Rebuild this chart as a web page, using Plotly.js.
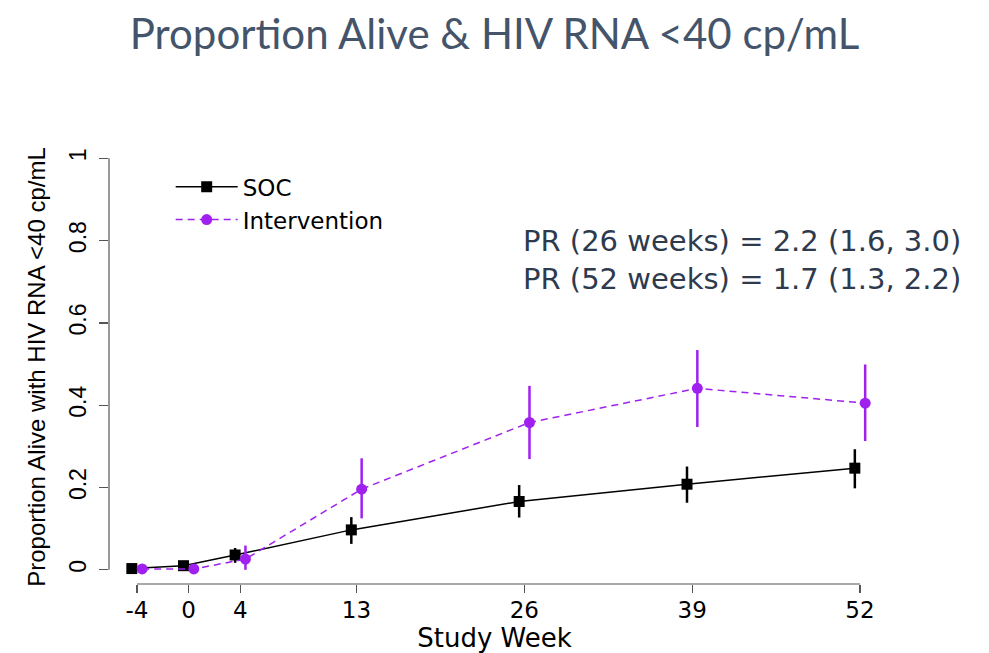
<!DOCTYPE html>
<html>
<head>
<meta charset="utf-8">
<script src="https://cdn.plot.ly/plotly-3.0.1.min.js"></script>
<style>
  html, body { margin: 0; padding: 0; background: #ffffff; }
  #chart { width: 989px; height: 653px; }
</style>
</head>
<body>
<div id="chart"></div>
<script>
// ---- data ----
var weeks = [-4, 0, 4, 13, 26, 39, 52];
var xTickLabels = ["-4", "0", "4", "13", "26", "39", "52"];
var yTicks = [0, 0.2, 0.4, 0.6, 0.8, 1];
var yTickLabels = ["0", "0.2", "0.4", "0.6", "0.8", "1"];

var socValues = [0.003, 0.010, 0.036, 0.097, 0.166, 0.208, 0.247];
var socUpper  = [0.003, 0.016, 0.053, 0.128, 0.206, 0.251, 0.293];
var socLower  = [0.003, 0.005, 0.017, 0.063, 0.127, 0.163, 0.198];

var intValues = [0.002, 0.002, 0.026, 0.196, 0.358, 0.441, 0.405];
var intUpper  = [0.002, 0.002, 0.059, 0.271, 0.447, 0.534, 0.499];
var intLower  = [0.002, 0.002, 0.000, 0.125, 0.269, 0.347, 0.313];

var dodge = 0.4;
var titleText = "Proportion Alive &amp; HIV RNA &lt;40 cp/mL";
var noteLines = ["PR (26 weeks) = 2.2 (1.6, 3.0)", "PR (52 weeks) = 1.7 (1.3, 2.2)"];

function diff(a, b) { return a.map(function (v, i) { return Math.max(0, v - b[i]); }); }

var purple = "#a020f0";
var wideFont = "DejaVu Sans, Verdana, sans-serif";
var font = "Liberation Sans, Arial, Helvetica, sans-serif";

var traces = [
  {
    name: "SOC",
    x: weeks.map(function (w) { return w - dodge; }),
    y: socValues,
    mode: "lines+markers",
    type: "scatter",
    line: { color: "#000000", width: 1.5 },
    marker: { symbol: "square", size: 11, color: "#000000" },
    error_y: { type: "data", symmetric: false,
      array: diff(socUpper, socValues), arrayminus: diff(socValues, socLower),
      color: "#000000", thickness: 2.5, width: 0 }
  },
  {
    name: "Intervention",
    x: weeks.map(function (w) { return w + dodge; }),
    y: intValues,
    mode: "lines+markers",
    type: "scatter",
    line: { color: purple, width: 1.5, dash: "7px,5px" },
    marker: { symbol: "circle", size: 11, color: purple },
    error_y: { type: "data", symmetric: false,
      array: diff(intUpper, intValues), arrayminus: diff(intValues, intLower),
      color: purple, thickness: 2.5, width: 0 }
  }
];

var layout = {
  width: 989, height: 653,
  paper_bgcolor: "#ffffff", plot_bgcolor: "#ffffff",
  margin: { l: 109, r: 109, t: 150, b: 69 },
  showlegend: true,
  font: { family: font, color: "#000000" },
  title: {
    text: titleText,
    font: { family: "Lato, sans-serif", size: 42, color: "#44546a" },
    x: 0.5, xanchor: "center", xref: "paper",
    y: 0.948, yref: "container", yanchor: "middle"
  },
  xaxis: {
    range: [-6.169, 53.549],
    tickmode: "array", tickvals: weeks, ticktext: xTickLabels,
    ticks: "outside", ticklen: 8, tickwidth: 1.2, tickcolor: "#555555",
    ticklabelstandoff: -3,
    showgrid: false, zeroline: false, showline: false,
    tickfont: { size: 23, color: "#000000", family: wideFont },
    title: { text: "Study Week", font: { size: 26, color: "#000000", family: wideFont }, standoff: 2 },
    automargin: false
  },
  yaxis: {
    range: [-0.0345, 1.0202],
    tickmode: "array", tickvals: yTicks, ticktext: yTickLabels,
    ticks: "outside", ticklen: 9, tickwidth: 1.2, tickcolor: "#555555",
    tickangle: -90, ticklabelstandoff: 4,
    showgrid: false, zeroline: false, showline: false,
    tickfont: { size: 23, color: "#000000", family: font },
    title: { text: "Proportion Alive with HIV RNA <40 cp/mL", font: { size: 24, color: "#000000", family: font }, standoff: 12 },
    automargin: false
  },
  legend: {
    x: 0.08, y: 0.965, xanchor: "left", yanchor: "top",
    bgcolor: "rgba(0,0,0,0)",
    font: { size: 23, color: "#000000", family: wideFont },
    tracegroupgap: 0, itemwidth: 62
  },
  shapes: [
    { type: "line", xref: "paper", yref: "y", x0: 0, x1: 0,
      y0: yTicks[0], y1: yTicks[yTicks.length - 1],
      line: { color: "#555555", width: 1.2 } },
    { type: "line", xref: "x", yref: "paper", y0: 0, y1: 0,
      x0: weeks[0], x1: weeks[weeks.length - 1],
      line: { color: "#555555", width: 1.2 } }
  ],
  annotations: [
    { text: noteLines.join("<br>"), xref: "paper", yref: "paper",
      x: 1.108, y: 0.834, xanchor: "right", yanchor: "top", align: "left",
      showarrow: false,
      font: { size: 29, color: "#2e3a4d", family: wideFont } }
  ]
};

Plotly.newPlot("chart", traces, layout, { displayModeBar: false, staticPlot: true });
</script>
</body>
</html>
